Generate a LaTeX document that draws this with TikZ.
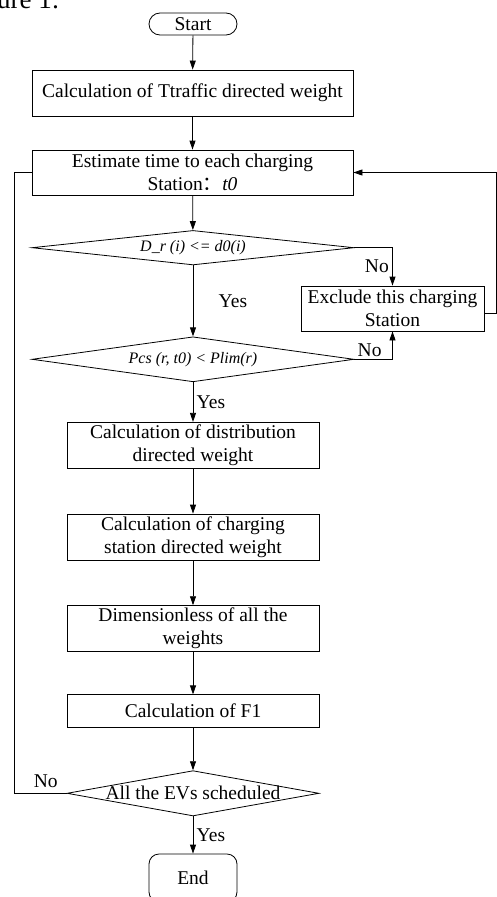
\documentclass[tikz,border=0pt]{standalone}
\usepackage{fontspec}
\setmainfont{Liberation Serif}
\newfontfamily\cjk{Noto Sans CJK SC}
\usepackage{tikz}
\usetikzlibrary{shapes.geometric, arrows.meta, positioning, calc}

\begin{document}
\begin{tikzpicture}[x=1pt, y=-1pt, line width=0.8pt,
  >={Triangle[length=9pt, width=6pt]},
  every node/.style={font=\fontsize{19.5}{23.5}\selectfont},
  proc/.style={draw, rectangle, align=center, inner sep=1pt},
  term/.style={draw, rectangle, rounded corners=#1, minimum width=88pt, inner sep=0pt},
  decision/.style={draw, diamond, inner sep=0pt},
  cond/.style={font=\fontsize{16}{18}\selectfont\itshape}]
\useasboundingbox (0,0) rectangle (496,897);

% caption cut off at the top
\node[anchor=base east, font=\fontsize{27}{30}\selectfont] (cap) at (63,8) {Figure 1:};

% main column
\node[term=11pt, minimum height=22pt] (start) at (193,24) {Start};
\node[proc, minimum width=321pt, minimum height=46pt] (traffic) at (192.5,93) {Calculation of Ttraffic directed weight};
\node[proc, minimum width=321pt, minimum height=45pt] (estimate) at (192.5,172.5) {Estimate time to each charging\\Station{\cjk ：}\textit{t0}};
\node[decision, minimum width=322pt, minimum height=34.5pt, label={[cond]center:D\_r (i) <= d0(i)}] (d1) at (193,247.7) {};
\node[proc, minimum width=183pt, minimum height=45pt, align=center] (exclude) at (392.5,308.5) {Exclude this charging\\Station};
\node[decision, minimum width=322pt, minimum height=45pt, label={[cond]center:Pcs (r, t0) < Plim(r)}] (d2) at (193,359.3) {};
\node[proc, minimum width=252pt, minimum height=46pt] (distr) at (193,445.3) {Calculation of distribution\\directed weight};
\node[proc, minimum width=252pt, minimum height=46pt] (station) at (193,537) {Calculation of charging\\station directed weight};
\node[proc, minimum width=252pt, minimum height=45.3pt] (dimless) at (193,628.3) {Dimensionless of all the\\weights};
\node[proc, minimum width=252pt, minimum height=32.3pt] (f1) at (193,711) {Calculation of F1};
\node[decision, minimum width=252pt, minimum height=45.3pt, label={center:All the EVs scheduled}] (d3) at (193,793.3) {};
\node[term=10pt, minimum height=48pt] (end) at (193,878) {End};

% arrows down the column
\draw[->] (start) -- (traffic);
\draw[->] (traffic) -- (estimate);
\draw[->] (estimate) -- (d1);
\draw[->] (d1) -- node[midway, right=22pt] {Yes} (d2);
\draw[->] (d2) -- node[midway, right=0pt] {Yes} (distr);
\draw[->] (distr) -- (station);
\draw[->] (station) -- (dimless);
\draw[->] (dimless) -- (f1);
\draw[->] (f1) -- (d3);
\draw[->] (d3) -- node[midway, right=0pt] {Yes} (end);

% the No branches
\draw[->] (d1.east) -| node[pos=0.75, left=0pt] {No} (exclude.north);
\draw[->] (d2.east) -| node[pos=0.2, above=-1pt] {No} (exclude.south);
\draw[->] ([yshift=-5pt]exclude.east) -- ++(11.5,0) |- (estimate.east);
\draw (d3.west) -- node[pos=0.4, above=2pt] {No} ++(-52,0) |- (estimate.west);
\end{tikzpicture}
\end{document}
